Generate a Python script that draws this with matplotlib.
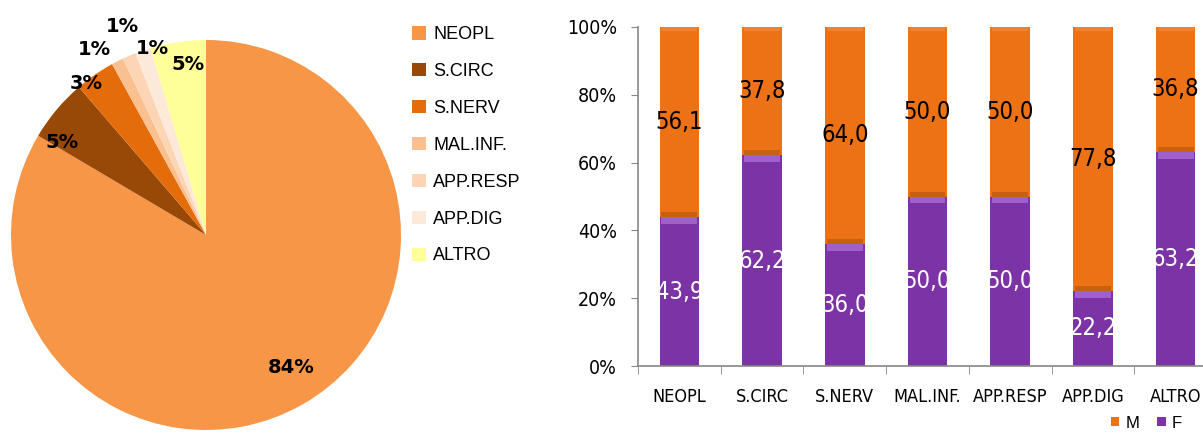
import numpy as np
import matplotlib
matplotlib.use("Agg")
import matplotlib.pyplot as plt
from matplotlib.patches import Patch
from matplotlib import font_manager

# pie data
pie_labels = ["NEOPL", "S.CIRC", "S.NERV", "MAL.INF.", "APP.RESP", "APP.DIG", "ALTRO"]
pie_values = [83.5, 5.2, 3.3, 1.0, 1.1, 1.3, 4.6]
pie_colors = ["#F79646", "#984807", "#E46C0A", "#FAC090", "#FCD5B5", "#FDE9D9", "#FFFF99"]

# bar data (percent by sex)
bar_cats = ["NEOPL", "S.CIRC", "S.NERV", "MAL.INF.", "APP.RESP", "APP.DIG", "ALTRO"]
f_vals = [43.9, 62.2, 36.0, 50.0, 50.0, 22.2, 63.2]
m_vals = [56.1, 37.8, 64.0, 50.0, 50.0, 77.8, 36.8]
y_ticks = [0, 20, 40, 60, 80, 100]

col_m = "#EC7215"
col_f = "#7B33A6"

# narrow font for the bar chart if there is one
names = {f.name for f in font_manager.fontManager.ttflist}
narrow = dict(family="Liberation Sans Narrow") if "Liberation Sans Narrow" in names \
    else dict(family="DejaVu Sans", fontstretch="condensed")

W, H = 1203, 434
fig = plt.figure(figsize=(W / 100, H / 100), dpi=100)

# ---- pie ----
cx, cy, r = 206, 235, 195
ax1 = fig.add_axes([(cx - r) / W, (H - cy - r) / H, 2 * r / W, 2 * r / H])
wedges, texts, autos = ax1.pie(pie_values, colors=pie_colors, startangle=90,
                               counterclock=False, autopct="%.0f%%",
                               wedgeprops=dict(linewidth=0))
ax1.set_xlim(-1, 1)
ax1.set_ylim(-1, 1)
ax1.set_aspect("equal")
ax1.axis("off")

# label placement (radius, angle in degrees)
lab_r = [0.809, 0.876, 0.993, 1.107, 1.151, 0.998, 0.877]
lab_a = [-57.4, 147.4, 128.3, 121.0, 112.0, 106.1, 96.0]
for t, rr, aa in zip(autos, lab_r, lab_a):
    t.set_position((rr * np.cos(np.radians(aa)), rr * np.sin(np.radians(aa))))
    t.set_fontsize(14)
    t.set_fontweight("bold")
    t.set_color("black")
    t.set_family("DejaVu Sans")

handles = [Patch(facecolor=c, edgecolor="none") for c in pie_colors]
fig.legend(handles, pie_labels, loc="upper left", bbox_to_anchor=(396 / W, 1 - 10 / H),
           frameon=False, prop={"family": "Liberation Sans", "size": 13},
           handlelength=0.75, handleheight=0.75, handletextpad=0.4, labelspacing=1.1)

# ---- stacked bars ----
x0, x1 = 638, 1217
y0, y1 = 366, 27
ax2 = fig.add_axes([x0 / W, (H - y0) / H, (x1 - x0) / W, (y0 - y1) / H])
x = np.arange(len(bar_cats))
f = np.array(f_vals)
m = np.array(m_vals)
bw = 0.48
ax2.bar(x, f, bw, color=col_f, label="F")
ax2.bar(x, m, bw, bottom=f, color=col_m, label="M")
# bevel look on segment tops
ax2.bar(x, 2.0, bw * 0.9, bottom=f - 2.0, color="#A060CC")
ax2.bar(x, 1.4, bw * 0.9, bottom=f, color="#C9600F")
ax2.bar(x, 1.2, bw * 0.9, bottom=f + m - 1.2, color="#EF8230")

for xi, fv, mv in zip(x, f, m):
    ax2.text(xi, fv / 2, f"{fv:.1f}".replace(".", ","), ha="center", va="center",
             color="white", fontsize=17, **narrow)
    ax2.text(xi, fv + mv / 2, f"{mv:.1f}".replace(".", ","), ha="center", va="center",
             color="black", fontsize=17, **narrow)

ax2.set_xlim(-0.5, len(bar_cats) - 0.5)
ax2.set_ylim(0, 100)
ax2.set_yticks(y_ticks)
ax2.set_yticklabels([f"{v}%" for v in y_ticks], fontsize=14, **narrow)
ax2.set_xticks(x)
ax2.set_xticklabels(bar_cats, fontsize=13, **narrow)
ax2.set_xticks(np.arange(len(bar_cats) + 1) - 0.5, minor=True)
ax2.tick_params(axis="x", which="major", length=0, pad=16)
ax2.tick_params(axis="x", which="minor", length=6, color="#888888")
ax2.tick_params(axis="y", length=5, color="#888888", pad=10)
for s in ["top", "right"]:
    ax2.spines[s].set_visible(False)
for s in ["left", "bottom"]:
    ax2.spines[s].set_color("#888888")
    ax2.spines[s].set_linewidth(1.2)

lh = [Patch(facecolor=col_m), Patch(facecolor=col_f)]
fig.legend(lh, ["M", "F"], loc="center left", bbox_to_anchor=(1111 / W, 11 / H), ncol=2,
           frameon=False, prop={"family": "Liberation Sans", "size": 12}, borderpad=0,
           borderaxespad=0, handlelength=0.5, handleheight=0.5, handletextpad=0.35,
           columnspacing=1.1)

fig.savefig("out.png", dpi=100)
